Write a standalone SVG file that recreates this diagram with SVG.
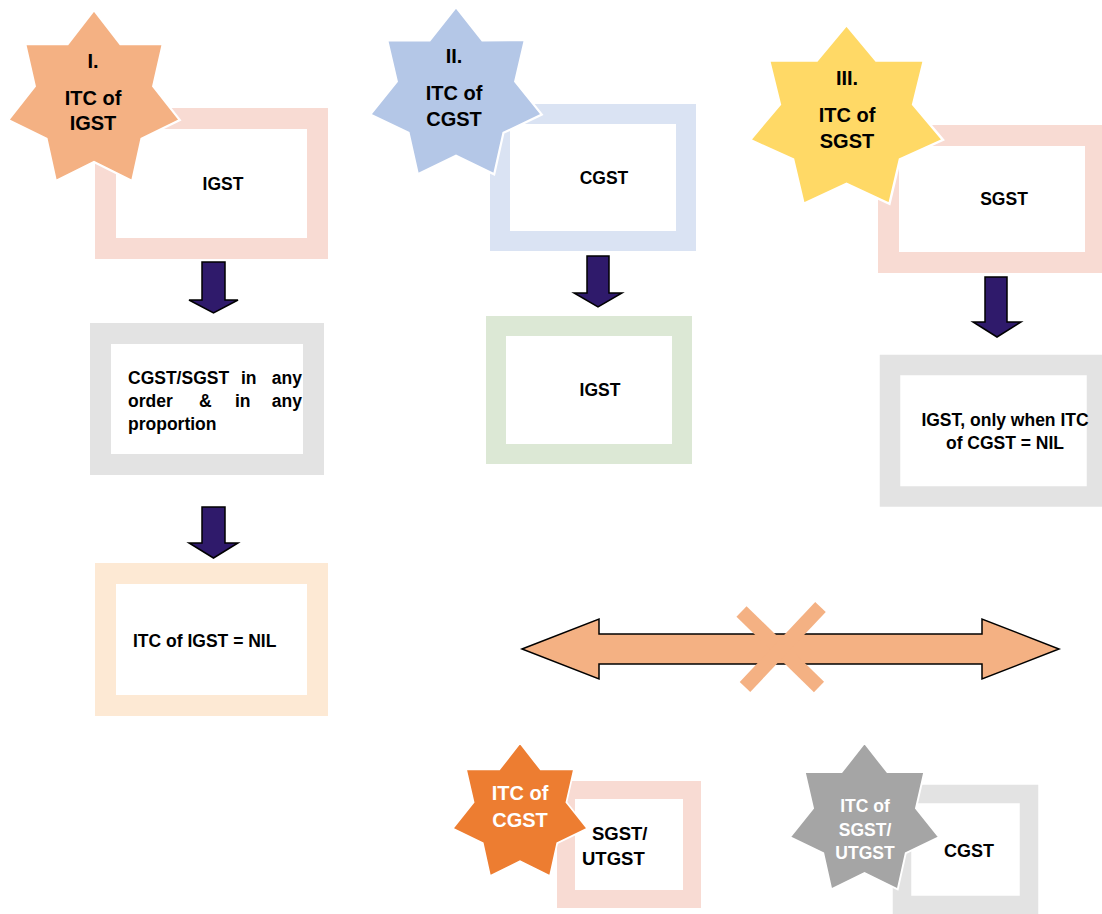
<svg xmlns="http://www.w3.org/2000/svg" xmlns:xlink="http://www.w3.org/1999/xlink" width="1102" height="914" viewBox="0 0 1102 914">
  <style>
    .box { fill: #ffffff; }
    .pink { stroke: #f8dbd3; }
    .blue { stroke: #dae3f3; }
    .gray { stroke: #e3e3e3; }
    .peach { stroke: #fde9d4; }
    .green { stroke: #dce8d5; }
    .star { stroke: #ffffff; stroke-width: 2.5; vector-effect: non-scaling-stroke; }
    .t { font-family: "Liberation Sans", Arial, sans-serif; font-weight: bold; fill: #000000; }
    .bt { font-size: 17.5px; }
    .st { font-size: 20px; text-anchor: middle; }
    .sm { font-size: 17.5px; }
    .w { fill: #ffffff; }
    .mid { text-anchor: middle; }
    .down { fill: #2f1a6b; stroke: #000000; stroke-width: 1.5; stroke-linejoin: miter; }
    .dbl { fill: #f4b183; stroke: #000000; stroke-width: 1.5; }
    .cross { stroke: #f4b183; stroke-width: 14.5; stroke-linecap: butt; }
  </style>
  <defs>
    <polygon id="star7" points="0,-100 29.94,-62.17 78.18,-62.35 67.27,-15.35 97.49,22.25 53.94,43.02 43.39,90.10 0,69 -43.39,90.10 -53.94,43.02 -97.49,22.25 -67.27,-15.35 -78.18,-62.35 -29.94,-62.17"/>
  </defs>
  <rect width="1102" height="914" fill="#ffffff"/>

  <!-- Boxes -->
  <g id="box-igst">
    <rect class="box pink" x="105.5" y="118.5" width="212" height="130" stroke-width="21"/>
    <text class="t bt mid" x="223" y="190">IGST</text>
  </g>
  <g id="box-cgst-any">
    <rect class="box gray" x="100.5" y="333.5" width="213" height="131" stroke-width="21"/>
    <text class="t bt" x="128" y="384">CGST/SGST</text>
    <text class="t bt" x="241" y="384">in</text>
    <text class="t bt" x="302" y="384" text-anchor="end">any</text>
    <text class="t bt" x="128" y="407">order</text>
    <text class="t bt" x="199" y="407">&amp;</text>
    <text class="t bt" x="235" y="407">in</text>
    <text class="t bt" x="302" y="407" text-anchor="end">any</text>
    <text class="t bt" x="128" y="430">proportion</text>
  </g>
  <g id="box-igst-nil">
    <rect class="box peach" x="105.5" y="573.5" width="212" height="132" stroke-width="21"/>
    <text class="t bt" x="133" y="647">ITC of IGST = NIL</text>
  </g>
  <g id="box-cgst">
    <rect class="box blue" x="500" y="114" width="186" height="127" stroke-width="20"/>
    <text class="t bt mid" x="604" y="184">CGST</text>
  </g>
  <g id="box-igst-green">
    <rect class="box green" x="496" y="326" width="186" height="128" stroke-width="20"/>
    <text class="t bt mid" x="600" y="396">IGST</text>
  </g>
  <g id="box-sgst">
    <rect class="box pink" x="888.5" y="135.5" width="207" height="127" stroke-width="21"/>
    <text class="t bt mid" x="1004" y="205">SGST</text>
  </g>
  <g id="box-igst-only">
    <rect class="box gray" x="890" y="365" width="207" height="131.5" stroke-width="20.5"/>
    <text class="t bt mid" x="1005" y="426">IGST, only when ITC</text>
    <text class="t bt mid" x="1005" y="449">of CGST = NIL</text>
  </g>
  <g id="box-sgst-utgst">
    <rect class="box pink" x="566" y="790" width="126" height="109" stroke-width="18"/>
    <text class="t" font-size="18.5" x="592" y="840">SGST/</text>
    <text class="t" font-size="18.5" x="582" y="865">UTGST</text>
  </g>
  <g id="box-cgst-bottom">
    <rect class="box gray" x="902" y="794" width="127" height="111" stroke-width="18.5"/>
    <text class="t mid" font-size="18" x="969" y="857">CGST</text>
  </g>

  <!-- Stars -->
  <g id="star-1">
    <use xlink:href="#star7" href="#star7" class="star" fill="#f4b183" transform="translate(94,100) scale(0.88,0.90)"/>
    <text class="t st" x="93" y="68">I.</text>
    <text class="t st" x="93" y="105">ITC of</text>
    <text class="t st" x="93" y="130">IGST</text>
  </g>
  <g id="star-2">
    <use xlink:href="#star7" href="#star7" class="star" fill="#b4c7e7" transform="translate(456,95) scale(0.88,0.88)"/>
    <text class="t st" x="454" y="63">II.</text>
    <text class="t st" x="454" y="100">ITC of</text>
    <text class="t st" x="454" y="126">CGST</text>
  </g>
  <g id="star-3">
    <use xlink:href="#star7" href="#star7" class="star" fill="#ffd966" transform="translate(846.5,119) scale(0.99,0.94)"/>
    <text class="t st" x="847" y="85">III.</text>
    <text class="t st" x="847" y="122">ITC of</text>
    <text class="t st" x="847" y="148">SGST</text>
  </g>
  <g id="star-itc-cgst">
    <use xlink:href="#star7" href="#star7" class="star" fill="#ed7d31" transform="translate(520,813) scale(0.69,0.70)"/>
    <text class="t st w" x="520" y="800">ITC of</text>
    <text class="t st w" x="520" y="827">CGST</text>
  </g>
  <g id="star-itc-sgst">
    <use xlink:href="#star7" href="#star7" class="star" fill="#a5a5a5" transform="translate(864.5,820) scale(0.765,0.77)"/>
    <text class="t st w sm" x="865" y="812">ITC of</text>
    <text class="t st w sm" x="865" y="836">SGST/</text>
    <text class="t st w sm" x="865" y="859">UTGST</text>
  </g>

  <!-- Connectors -->
  <g id="connectors">
    <polygon class="down" points="202,262 225,262 225,300 238,300 213.5,313 189,300 202,300"/>
    <polygon class="down" points="202,507 225,507 225,543 238,543 213.5,558 189,543 202,543"/>
    <polygon class="down" points="587,256 609,256 609,293 622,293 598,307 574,293 587,293"/>
    <polygon class="down" points="985,277 1007,277 1007,322 1021,322 997,337 973,322 985,322"/>
    <polygon class="dbl" points="522,649 599,619 599,634 982,634 982,619 1059,649 982,679 982,664 599,664 599,679"/>
    <line class="cross" x1="741.5" y1="611.5" x2="819" y2="687"/>
    <line class="cross" x1="820.5" y1="607" x2="745" y2="687"/>
  </g>
</svg>
